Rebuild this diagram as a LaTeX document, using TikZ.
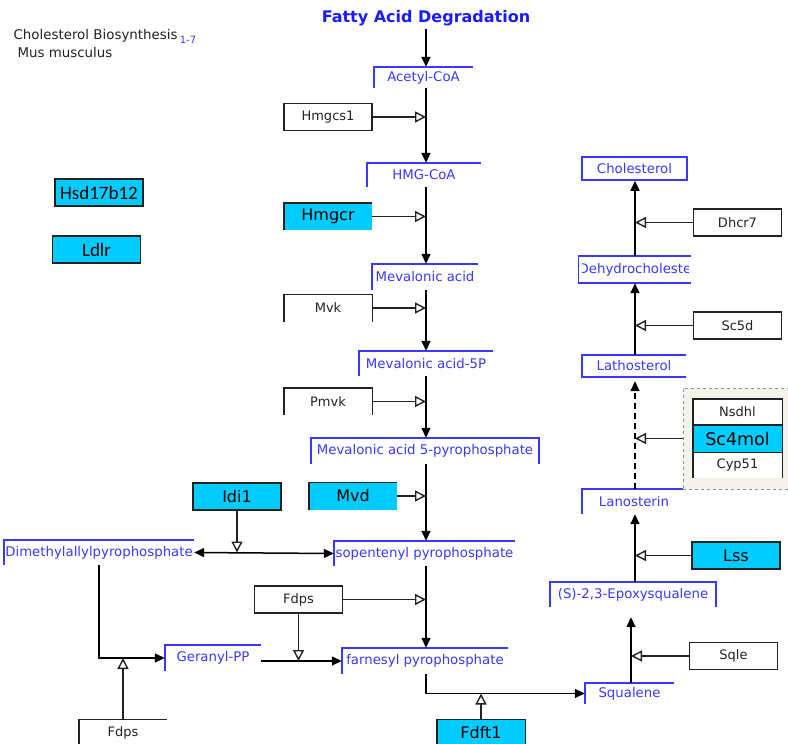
\documentclass[tikz,border=0pt]{standalone}
\usepackage{fontspec}
\setmainfont{DejaVu Sans}
\newfontfamily\calibri{Carlito}
\usetikzlibrary{positioning, arrows.meta}
\definecolor{metablue}{HTML}{3838FF}
\definecolor{titleblue}{HTML}{1A1AFF}
\definecolor{genecyan}{HTML}{00CCFF}
\definecolor{groupbg}{HTML}{F4F3EC}
\definecolor{ink}{HTML}{222222}

\begin{document}
\begin{tikzpicture}[
    x=1pt, y=-1pt,
    metab/.style={inner sep=0pt, text=metablue, font=\fontsize{13.3}{15}\selectfont},
    gene/.style={inner sep=0pt, minimum width=88pt, minimum height=27pt, text=ink, font=\fontsize{13}{15}\selectfont},
    hit/.style={gene, fill=genecyan, text=black, font=\fontsize{16}{18}\selectfont},
    boxed/.style={draw=ink, line width=1.4pt},
    rim/.style={draw=metablue, line width=1.5pt},
    conv/.style={-{Triangle[length=10pt, width=9pt]}, line width=1.5pt},
    cat/.style={-{Triangle[open, length=11pt, width=11pt]}, line width=1.4pt, draw=ink},
]
\useasboundingbox (0,0) rectangle (788,744);

% spines of the two branches
\coordinate (spine) at (426,0);
\coordinate (rspine) at (635,0);
\coordinate (sspine) at (631,0);

% header
\node[anchor=north west, text=ink, font=\fontsize{13.4}{15}\selectfont] (pwname) at (10,26)
    {Cholesterol Biosynthesis\,\raisebox{-4pt}{\textcolor{metablue}{\fontsize{10}{12}\selectfont 1-7}}};
\node[anchor=north west, text=ink, font=\fontsize{13.4}{15}\selectfont] (species) at (14,44) {Mus musculus};
\node[text=titleblue, font=\bfseries\fontsize{16}{18}\selectfont] (fad) at (426,18) {Fatty Acid Degradation};

% metabolites
\node[metab, minimum width=99pt, minimum height=21pt] (acoa) at (423.5,77.5) {Acetyl-CoA};
\node[metab, minimum width=114pt, minimum height=24pt] (hmgcoa) at (424,175) {HMG-CoA};
\node[metab, minimum width=106pt, minimum height=26pt] (mva) at (425,277) {Mevalonic acid};
\node[metab, minimum width=134pt, minimum height=25pt] (mva5p) at (426,363.5) {Mevalonic acid-5P};
\node[metab, minimum width=228pt, minimum height=26pt] (mvapp) at (425,451) {Mevalonic acid 5-pyrophosphate};
\node[metab, minimum width=181pt, minimum height=25pt] (ipp) at (424.5,553.5) {sopentenyl pyrophosphate};
\node[metab, minimum width=190pt, minimum height=25pt] (dmapp) at (99,552.5) {Dimethylallylpyrophosphate};
\node[metab, minimum width=96pt, minimum height=26pt] (gpp) at (213,658) {Geranyl-PP};
\node[metab, minimum width=166pt, minimum height=26pt] (fpp) at (425,661) {farnesyl pyrophosphate};
\node[metab, minimum width=89pt, minimum height=21pt] (sqa) at (629.5,693.5) {Squalene};
\node[metab, minimum width=166pt, minimum height=25pt] (epox) at (633,594.5) {(S)-2,3-Epoxysqualene};
\node[metab, minimum width=104pt, minimum height=25pt] (lano) at (634,501.5) {Lanosterin};
\node[metab, minimum width=104pt, minimum height=22pt] (latho) at (634,366) {Lathosterol};
\begin{scope}
  \clip (582,256) rectangle (688,283);
  \node[metab, minimum width=106pt, minimum height=27pt] (dhc) at (635,269.5) {Dehydrocholeste};
\end{scope}
\node[metab, rim, minimum width=105pt, minimum height=23pt] (chol) at (634.5,168.5) {Cholesterol};

% open borders of the metabolites
\foreach \m in {acoa,hmgcoa,mva,mva5p,ipp,dmapp,gpp,fpp,sqa,lano}
  \draw[rim] (\m.south west) |- (\m.north east);
\foreach \m in {mvapp,epox}
  \draw[rim] (\m.south west) |- (\m.north east) -- (\m.south east);
\foreach \m in {latho,dhc}
  \draw[rim] (\m.north east) -| (\m.south west) -- (\m.south east);

% gene products
\node[gene, boxed] (hmgcs1) at (328,117) {Hmgcs1};
\node[hit] (hmgcr) at (328,216.5) {Hmgcr};
\node[gene] (mvk) at (328,308) {Mvk};
\node[gene] (pmvk) at (328,401.5) {Pmvk};
\node[hit] (mvd) at (353,496) {Mvd};
\node[hit, boxed] (idi1) at (237,496.5) {Idi1};
\node[gene, boxed] (fdps) at (298.5,599.5) {Fdps};
\node[gene] (fdpsb) at (123,733) {Fdps};
\node[hit] (fdft1) at (481,733) {Fdft1};
\node[gene, boxed] (sqle) at (733.5,656) {Sqle};
\node[hit, boxed] (lss) at (736,555.5) {Lss};
\node[gene, boxed] (sc5d) at (737.5,325.5) {Sc5d};
\node[gene, boxed] (dhcr7) at (737.5,222.5) {Dhcr7};
\node[hit, boxed, font=\calibri\fontsize{19}{21}\selectfont] (hsd) at (99,192.5) {Hsd17b12};
\node[hit, boxed, font=\calibri\fontsize{19}{21}\selectfont] (ldlr) at (96.5,249.5) {Ldlr};

\foreach \g in {hmgcr,mvd,fdpsb}
  \draw[boxed] (\g.south west) |- (\g.north east);
\foreach \g in {mvk,pmvk,fdft1}
  \draw[boxed] (\g.south west) |- (\g.north east) -- (\g.south east);

% sterol demethylation group
\node[draw=black!45, dashed, line width=1pt, fill=groupbg, minimum width=105pt, minimum height=101pt] (grp) at (735.5,438.5) {};
\node[gene, fill=white, minimum width=89pt, minimum height=26pt] (nsdhl) at (737.5,412) {Nsdhl};
\node[hit, minimum width=89pt] (sc4mol) at (737.5,438.5) {\fontsize{17.5}{19}\selectfont Sc4mol};
\node[gene, fill=white, minimum width=89pt, minimum height=26pt] (cyp51) at (737.5,465) {Cyp51};
\draw[boxed] (cyp51.south west) |- (nsdhl.north east) -- (cyp51.south east);
\draw[boxed] (sc4mol.north west) -- (sc4mol.north east);
\draw[boxed] (sc4mol.south west) -- (sc4mol.south east);

% conversions
\draw[conv] (fad.south) -- (acoa.north -| spine);
\draw[conv] (acoa.south -| spine) -- (hmgcoa.north -| spine);
\draw[conv] (hmgcoa.south -| spine) -- (mva.north -| spine);
\draw[conv] (mva.south -| spine) -- (mva5p.north -| spine);
\draw[conv] (mva5p.south -| spine) -- (mvapp.north -| spine);
\draw[conv] (mvapp.south -| spine) -- (ipp.north -| spine);
\draw[conv] (ipp.south -| spine) -- (fpp.north -| spine);
\draw[conv, {Triangle[length=10pt, width=9pt]}-{Triangle[length=10pt, width=9pt]}] (dmapp.east) -- (ipp.west);
\draw[conv] (dmapp.south) |- (gpp.west);
\draw[conv] (gpp.east |- fpp) -- (fpp.west);
\draw[conv] (fpp.south -| spine) |- (sqa.west);
\draw[conv, shorten >=10pt] (sqa.north -| sspine) -- (epox.south -| sspine);
\draw[conv] (epox.north -| rspine) -- (lano.south -| rspine);
\draw[conv, dash pattern=on 6pt off 4pt, shorten >=4pt] (lano.north -| rspine) -- (latho.south -| rspine);
\draw[conv] (latho.north -| rspine) -- (dhc.south -| rspine);
\draw[conv] (dhc.north -| rspine) -- (chol.south -| rspine);

% catalysis
\draw[cat] (hmgcs1) -- (hmgcs1 -| spine);
\draw[cat] (hmgcr) -- (hmgcr -| spine);
\draw[cat] (mvk) -- (mvk -| spine);
\draw[cat] (pmvk) -- (pmvk -| spine);
\draw[cat] (mvd) -- (mvd -| spine);
\draw[cat] (fdps) -- (fdps -| spine);
\draw[cat] (idi1.south) -- (idi1.south |- dmapp);
\draw[cat] (fdps.south) -- (fdps.south |- fpp);
\draw[cat] (fdpsb.north) -- (fdpsb.north |- gpp);
\draw[cat] (fdft1.north) -- (fdft1.north |- sqa);
\draw[cat] (sqle) -- (sqle -| sspine);
\draw[cat] (lss) -- (lss -| rspine);
\draw[cat] (grp) -- (grp -| rspine);
\draw[cat] (sc5d) -- (sc5d -| rspine);
\draw[cat] (dhcr7) -- (dhcr7 -| rspine);
\end{tikzpicture}
\end{document}
